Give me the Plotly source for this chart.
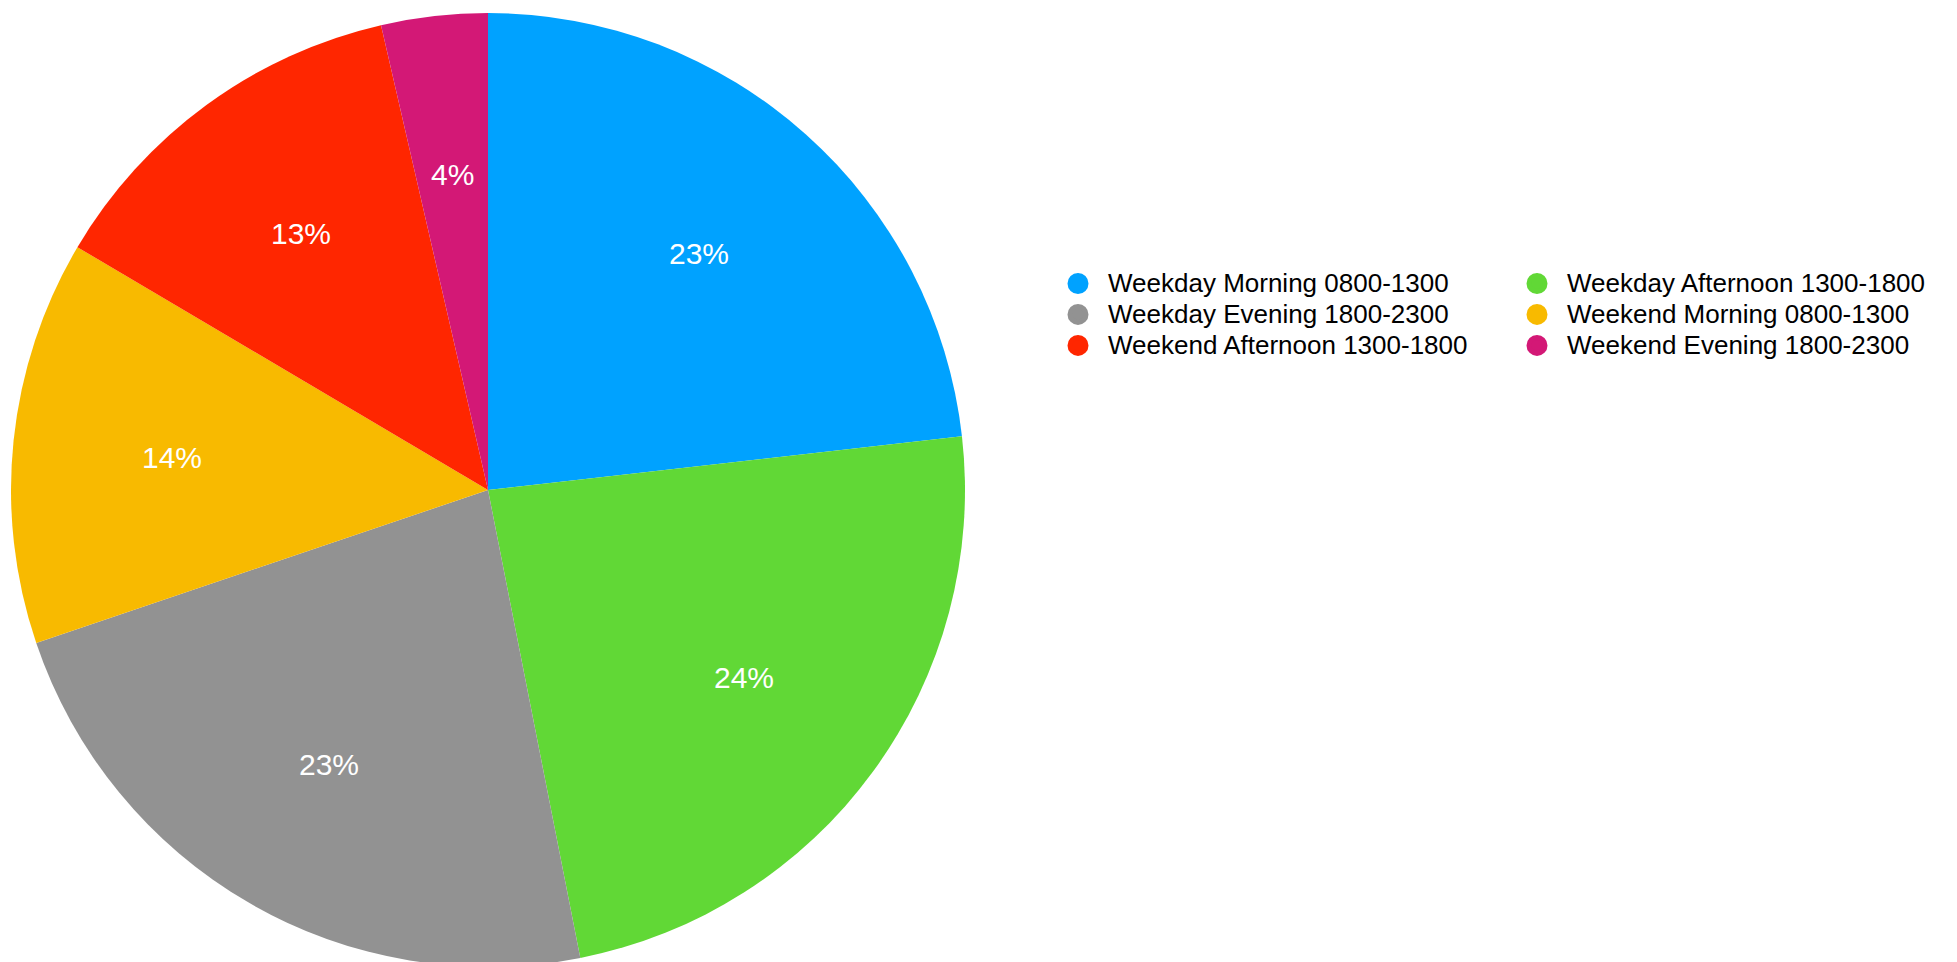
import math
import plotly.graph_objects as go

categories = [
    "Weekday Morning 0800-1300",
    "Weekday Afternoon 1300-1800",
    "Weekday Evening 1800-2300",
    "Weekend Morning 0800-1300",
    "Weekend Afternoon 1300-1800",
    "Weekend Evening 1800-2300",
]
values = [23.2, 23.7, 22.9, 13.7, 12.9, 3.6]
colors = ["#00A2FF", "#61D836", "#929292", "#F8BA00", "#FF2600", "#D31876"]

FONT = "Liberation Sans, Helvetica, Arial, sans-serif"
W, H = 1957, 962
M_T, M_L = 5, 3
PLOT_W, PLOT_H = 954, 954
M_R = W - M_L - PLOT_W
M_B = H - M_T - PLOT_H

fig = go.Figure()
fig.add_trace(go.Pie(
    labels=categories, values=values, sort=False, direction="clockwise",
    rotation=0, marker=dict(colors=colors, line=dict(width=0)),
    textinfo="none", hoverinfo="label+percent", showlegend=False,
    domain=dict(x=[0, 1], y=[0, 1]),
))

# legend entries as circle markers
for name, c in zip(categories, colors):
    fig.add_trace(go.Scatter(
        x=[None], y=[None], mode="markers",
        name=f'<span style="font-size:26px">{name}</span>',
        marker=dict(symbol="circle", size=16, color=c, line=dict(width=5, color=c)),
        showlegend=True, hoverinfo="skip",
    ))

# percentage labels placed along each slice's mid-angle
R = min(PLOT_W, PLOT_H) / 2
cx = M_L + PLOT_W / 2
cy = M_T + PLOT_H / 2
total = sum(values)
cum = 0
annotations = []
for v in values:
    mid = (cum + v / 2) / total * 2 * math.pi
    cum += v
    px = cx + 0.665 * R * math.sin(mid)
    py = cy - 0.665 * R * math.cos(mid)
    annotations.append(dict(
        x=(px - M_L) / PLOT_W, y=1 - (py - M_T) / PLOT_H, xref="paper", yref="paper",
        text=f"{round(v / total * 100)}%", showarrow=False,
        font=dict(family=FONT, size=30, color="white"),
        xanchor="center", yanchor="middle",
    ))

fig.update_layout(
    width=W, height=H,
    margin=dict(l=M_L, r=M_R, t=M_T, b=M_B, autoexpand=False),
    paper_bgcolor="white", plot_bgcolor="white",
    xaxis=dict(visible=False), yaxis=dict(visible=False),
    showlegend=True,
    legend=dict(
        orientation="h", x=(1040 - M_L) / PLOT_W, xanchor="left",
        y=1 - (255 - M_T) / PLOT_H, yanchor="top",
        itemwidth=50, entrywidth=394, entrywidthmode="pixels",
        font=dict(family=FONT, size=21.5, color="#000000"),
        bgcolor="rgba(0,0,0,0)", itemclick=False,
    ),
    annotations=annotations,
)

fig.write_html("out.html")
